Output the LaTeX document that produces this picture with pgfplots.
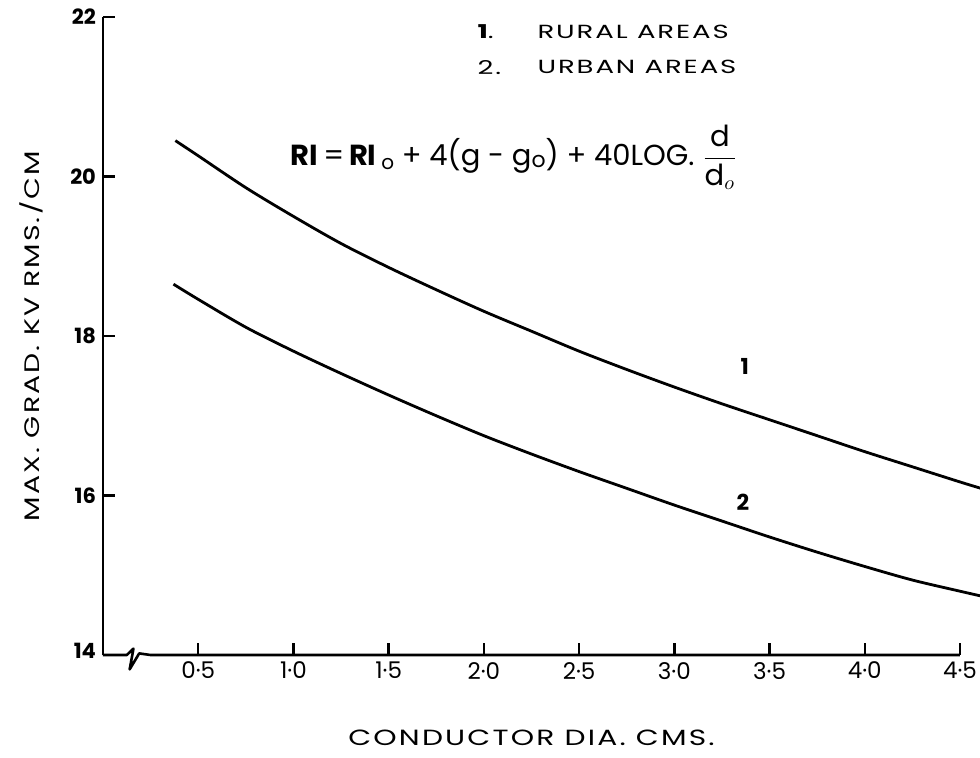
\documentclass[border=0pt]{standalone}
\usepackage{pgfplots}
\usepackage{pgfplotstable}
\pgfplotsset{compat=1.18}
\usepackage{fontspec}
\setmainfont{Poppins}
\newfontfamily\lett[FakeStretch=1.35, LetterSpace=10]{Poppins}
\newfontfamily\lettw[FakeStretch=1.45, LetterSpace=10]{Poppins}

% Max. gradient (kV rms/cm) against conductor diameter (cm)
\pgfplotstableread{
x     y
0.38  20.45
0.50  20.26
0.75  19.86
1.00  19.50
1.25  19.16
1.50  18.86
1.75  18.58
2.00  18.31
2.25  18.06
2.50  17.81
2.75  17.58
3.00  17.36
3.25  17.15
3.50  16.95
3.75  16.75
4.00  16.55
4.25  16.36
4.50  16.17
4.61  16.09
}\rural

\pgfplotstableread{
x     y
0.37  18.65
0.50  18.46
0.75  18.11
1.00  17.81
1.25  17.53
1.50  17.26
1.75  17.00
2.00  16.75
2.25  16.52
2.50  16.30
2.75  16.09
3.00  15.88
3.25  15.68
3.50  15.48
3.75  15.29
4.00  15.11
4.25  14.94
4.50  14.80
4.61  14.74
}\urban

\begin{document}
\begin{tikzpicture}
\path[use as bounding box] (-51.5pt,-51pt) rectangle (438.5pt,327.5pt);
\begin{axis}[
  scale only axis,
  width=428.5pt, height=319pt,
  xmin=0, xmax=4.5, ymin=14, ymax=22,
  axis lines=left,
  axis line style={-, line width=1.3pt},
  x axis line style={draw=none},
  tick align=inside,
  major tick length=6pt,
  every tick/.style={black, line width=1.2pt},
  xtick={0.5,1,1.5,2,2.5,3,3.5,4,4.5},
  xticklabels={0\textperiodcentered5,1\textperiodcentered0,1\textperiodcentered5,2\textperiodcentered0,2\textperiodcentered5,3\textperiodcentered0,3\textperiodcentered5,4\textperiodcentered0,4\textperiodcentered5},
  ytick={14,16,18,20,22},
  yticklabels={\raisebox{4pt}{14},16,18,20,22},
  xticklabel style={font=\fontsize{11.5}{11.5}\selectfont},
  yticklabel style={font=\bfseries\fontsize{10.5}{10.5}\selectfont},
  clip=false,
]
% x axis with a break mark near the origin
\draw[line width=1.3pt, line join=round]
  (axis cs:0,14) -- (axis cs:0.125,14) -- (axis cs:0.16,14.08)
  -- (axis cs:0.14,13.82) -- (axis cs:0.19,14.02) -- (axis cs:0.25,14)
  -- (axis cs:4.5,14);

\addplot[black, line width=1.4pt, smooth] table[x=x, y=y] {\rural};
\addplot[black, line width=1.4pt, smooth] table[x=x, y=y] {\urban};

\node[font=\bfseries\fontsize{11}{11}\selectfont] at (axis cs:3.37,17.62) {1};
\node[font=\bfseries\fontsize{11}{11}\selectfont] at (axis cs:3.36,15.92) {2};

\node[anchor=west, font=\lettw\fontsize{9.5}{9.5}\selectfont] at (axis cs:1.93,21.82) {\textbf{1}.};
\node[anchor=west, font=\lettw\fontsize{9.5}{9.5}\selectfont] at (axis cs:2.245,21.82) {RURAL AREAS};
\node[anchor=west, font=\lettw\fontsize{9.5}{9.5}\selectfont] at (axis cs:1.93,21.37) {2.};
\node[anchor=west, font=\lettw\fontsize{9.5}{9.5}\selectfont] at (axis cs:2.245,21.37) {URBAN AREAS};

\node[anchor=west, font=\fontsize{14.5}{14.5}\selectfont] at (axis cs:0.95,20.24)
  {\textbf{RI}\,=\,\textbf{RI}\,{\raisebox{-2pt}{\fontsize{10}{10}\selectfont o}} + 4(g - g\raisebox{-1pt}{\fontsize{11}{11}\selectfont o}) + 40LOG. $\displaystyle\frac{\mathrm{d}}{\mathrm{d}_o}$};

\node[font=\lett\fontsize{11}{11}\selectfont] at ([yshift=-41.5pt]axis description cs:0.5,0) {CONDUCTOR DIA. CMS.};
\node[font=\lett\fontsize{10.5}{10.5}\selectfont, rotate=90] at ([xshift=-36pt]axis description cs:0,0.5) {MAX. GRAD. KV RMS./CM};
\end{axis}
\end{tikzpicture}
\end{document}
